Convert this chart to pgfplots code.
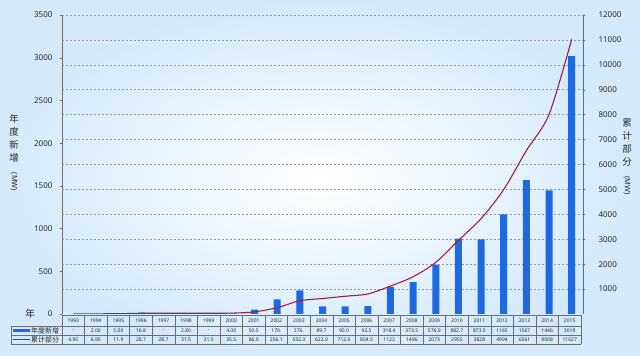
\documentclass[border=0pt]{standalone}
\usepackage{pgfplots}
\pgfplotsset{compat=1.18}
\usepackage{fontspec}
\setmainfont{Noto Sans}
\newfontfamily\cjk{Noto Sans CJK SC}
\definecolor{barblue}{RGB}{30,105,225}
\definecolor{linered}{RGB}{160,30,65}
\definecolor{bgblue}{RGB}{212,234,250}
\definecolor{txt}{RGB}{40,40,40}
\definecolor{gridc}{RGB}{110,110,110}
\definecolor{gridl}{RGB}{150,150,150}
\begin{document}
\begin{tikzpicture}[x=1pt,y=1pt]
\shade[inner color=white, outer color=bgblue] (0,0) rectangle (640,356);
\useasboundingbox (0,0) rectangle (640,356);
\pgfplotsset{
  common/.style={at={(62pt,42pt)}, anchor=south west, scale only axis,
    width=521pt, height=299pt, xmin=1992.5, xmax=2015.5,
    axis x line=none, xtick=\empty,
    tick align=outside, major tick length=2pt,
    tick style={gridc, thin},
    axis line style={gridc, thin},
    scaled y ticks=false,
    ticklabel style={font=\fontsize{8}{9}\selectfont, text=txt},
    /pgf/number format/.cd, set thousands separator={}, assume math mode=true}
}
\begin{axis}[common, axis y line*=left, ymin=0, ymax=3500,
  ytick={0,500,...,3500},
  yticklabel style={xshift=-4pt},
  extra y ticks={291.6667,583.3333,875,1166.667,1458.333,1750,2041.667,2333.333,2625,2916.667,3208.333,3500},
  extra y tick labels={},
  extra y tick style={grid=major, major tick length=0pt},
  grid style={gridl, line width=0.5pt, dash pattern=on 2pt off 2pt},
  ybar, bar width=7pt]
\addplot[fill=barblue, draw=none] coordinates {
(1994,2.00) (1995,5.00) (1996,16.8) (1998,2.80) (2000,4.00)
(2001,50.5) (2002,170) (2003,276) (2004,89.7) (2005,90.0) (2006,92.5)
(2007,318.4) (2008,373.5) (2009,576.9) (2010,882.7) (2011,873.5)
(2012,1165) (2013,1567) (2014,1446) (2015,3018)};
\end{axis}
\begin{axis}[common, axis y line*=right, ymin=0, ymax=12000,
  ytick={1000,2000,...,12000},
  yticklabel style={xshift=10pt}]
\addplot[linered, line width=1.1pt, smooth, tension=0.5] coordinates {
(1993,4.95) (1994,6.95) (1995,11.9) (1996,28.7) (1997,28.7) (1998,31.5)
(1999,31.5) (2000,35.5) (2001,86.0) (2002,256.1) (2003,532.3) (2004,622.0)
(2005,712.0) (2006,804.5) (2007,1122) (2008,1496) (2009,2073) (2010,2955)
(2011,3828) (2012,4994) (2013,6561) (2014,8008) (2015,11027)};
\end{axis}
% axis labels
\node[align=center, font=\fontsize{9.5}{13}\selectfont, text=txt, inner sep=0pt] at (14,203)
  {\cjk 年\\\cjk 度\\\cjk 新\\\cjk 增\\[-2pt]\rotatebox{-90}{\fontsize{7.5}{9}\selectfont (MW)}};
\node[align=center, font=\fontsize{9.5}{13}\selectfont, text=txt, inner sep=0pt] at (627,199)
  {\cjk 累\\\cjk 计\\\cjk 部\\\cjk 分\\[-2pt]\rotatebox{-90}{\fontsize{7.5}{9}\selectfont (MW)}};
\node[font=\fontsize{10}{11}\selectfont\cjk, text=txt] at (30,42.5) {年};
% table
\begin{scope}[draw=gridc, line width=0.4pt]
\draw (62,41) -- (581,41);
\draw (11,30) -- (581,30);
\draw (11,21) -- (581,21);
\draw (11,12) -- (581,12);
\draw (11,12) -- (11,30);
\foreach \k in {0,...,23} {\draw ({62+\k*22.565},12) -- ({62+\k*22.565},41);}
\end{scope}
\foreach \v [count=\i from 0] in {1993,1994,1995,1996,1997,1998,1999,2000,2001,2002,2003,2004,2005,2006,2007,2008,2009,2010,2011,2012,2013,2014,2015}
  {\node[font=\fontsize{5}{6}\selectfont, text=txt, inner sep=0pt] at ({62+(\i+0.5)*22.565},35.5) {\v};}
\foreach \v [count=\i from 0] in {-,2.00,5.00,16.8,-,2.80,-,4.00,50.5,170.,276.,89.7,90.0,92.5,318.4,373.5,576.9,882.7,873.5,1165,1567,1446,3018}
  {\node[font=\fontsize{5}{6}\selectfont, text=txt, inner sep=0pt] at ({62+(\i+0.5)*22.565},25.5) {\v};}
\foreach \v [count=\i from 0] in {4.95,6.95,11.9,28.7,28.7,31.5,31.5,35.5,86.0,256.1,532.3,622.0,712.0,804.5,1122,1496,2073,2955,3828,4994,6561,8008,11027}
  {\node[font=\fontsize{5}{6}\selectfont, text=txt, inner sep=0pt] at ({62+(\i+0.5)*22.565},16.5) {\v};}
\draw[barblue, line width=2.5pt] (13,25.5) -- (30,25.5);
\draw[linered, line width=1.2pt] (13,16.5) -- (30,16.5);
\node[font=\fontsize{7}{8}\selectfont\cjk, text=txt, anchor=west, inner sep=0pt] at (31,25.5) {年度新增};
\node[font=\fontsize{7}{8}\selectfont\cjk, text=txt, anchor=west, inner sep=0pt] at (31,16.5) {累计部分};
\end{tikzpicture}
\end{document}
